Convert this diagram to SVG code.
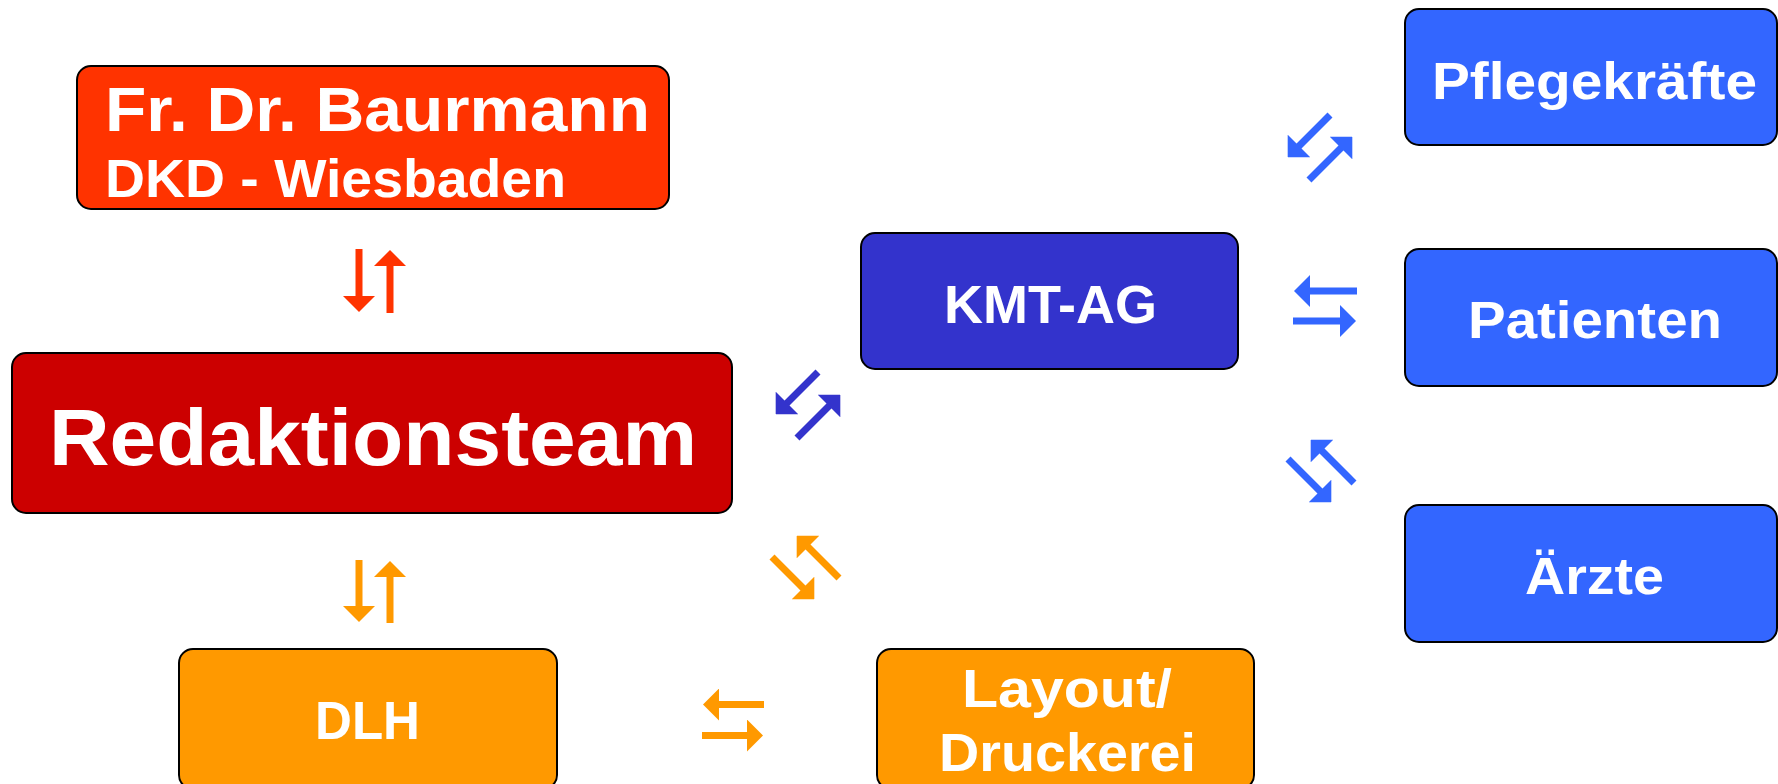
<svg xmlns="http://www.w3.org/2000/svg" width="1778" height="784" viewBox="0 0 1778 784">
  <style>
    .box { stroke: #000; stroke-width: 2; }
    .t { font-family: "Liberation Sans", Arial, sans-serif; font-weight: bold; fill: #fff; }
    .sh { fill: none; stroke-width: 7; stroke-linecap: butt; }
    .red { stroke: #FF3300; }
    .org { stroke: #FF9900; }
    .dbl { stroke: #3333CC; }
    .lbl { stroke: #3366FF; }
  </style>
  <defs>
    <marker id="hRed" markerUnits="userSpaceOnUse" viewBox="0 0 16 32" markerWidth="16" markerHeight="32" refX="1" refY="16" orient="auto"><path d="M0,0 L16,16 L0,32 Z" fill="#FF3300"/></marker>
    <marker id="hOrg" markerUnits="userSpaceOnUse" viewBox="0 0 16 32" markerWidth="16" markerHeight="32" refX="1" refY="16" orient="auto"><path d="M0,0 L16,16 L0,32 Z" fill="#FF9900"/></marker>
    <marker id="hDbl" markerUnits="userSpaceOnUse" viewBox="0 0 16 32" markerWidth="16" markerHeight="32" refX="1" refY="16" orient="auto"><path d="M0,0 L16,16 L0,32 Z" fill="#3333CC"/></marker>
    <marker id="hLbl" markerUnits="userSpaceOnUse" viewBox="0 0 16 32" markerWidth="16" markerHeight="32" refX="1" refY="16" orient="auto"><path d="M0,0 L16,16 L0,32 Z" fill="#3366FF"/></marker>
  </defs>
  <rect width="1778" height="784" fill="#fff"/>

  <g id="connectors">
    <!-- Baurmann <-> Redaktionsteam -->
    <line class="sh red" x1="359" y1="249" x2="359" y2="297" marker-end="url(#hRed)"/>
    <line class="sh red" x1="390" y1="313" x2="390" y2="265" marker-end="url(#hRed)"/>
    <!-- Redaktionsteam <-> DLH -->
    <line class="sh org" x1="359" y1="560" x2="359" y2="607" marker-end="url(#hOrg)"/>
    <line class="sh org" x1="390" y1="623" x2="390" y2="576" marker-end="url(#hOrg)"/>
    <!-- DLH <-> Layout -->
    <line class="sh org" x1="764" y1="704.5" x2="718" y2="704.5" marker-end="url(#hOrg)"/>
    <line class="sh org" x1="702" y1="735.5" x2="748" y2="735.5" marker-end="url(#hOrg)"/>
    <!-- Redaktionsteam <-> Layout -->
    <line class="sh org" x1="839" y1="578" x2="807.3" y2="546.3" marker-end="url(#hOrg)"/>
    <line class="sh org" x1="772" y1="557" x2="803.7" y2="588.7" marker-end="url(#hOrg)"/>
    <!-- Redaktionsteam <-> KMT-AG -->
    <line class="sh dbl" x1="818" y1="372" x2="786.3" y2="403.7" marker-end="url(#hDbl)"/>
    <line class="sh dbl" x1="797" y1="438" x2="829.7" y2="405.3" marker-end="url(#hDbl)"/>
    <!-- KMT-AG <-> Pflegekraefte -->
    <line class="sh lbl" x1="1330" y1="115" x2="1298.3" y2="146.7" marker-end="url(#hLbl)"/>
    <line class="sh lbl" x1="1309" y1="180" x2="1341.7" y2="147.3" marker-end="url(#hLbl)"/>
    <!-- KMT-AG <-> Patienten -->
    <line class="sh lbl" x1="1357" y1="291" x2="1309" y2="291" marker-end="url(#hLbl)"/>
    <line class="sh lbl" x1="1293" y1="321" x2="1341" y2="321" marker-end="url(#hLbl)"/>
    <!-- KMT-AG <-> Aerzte -->
    <line class="sh lbl" x1="1354" y1="483" x2="1321.3" y2="450.3" marker-end="url(#hLbl)"/>
    <line class="sh lbl" x1="1288" y1="459" x2="1320.7" y2="491.7" marker-end="url(#hLbl)"/>
  </g>

  <g id="baurmann">
    <rect class="box" x="77" y="66" width="592" height="143" rx="14" fill="#FF3300"/>
    <text class="t" x="105" y="131" font-size="63" textLength="545" lengthAdjust="spacingAndGlyphs">Fr. Dr. Baurmann</text>
    <text class="t" x="105" y="197" font-size="53" textLength="461" lengthAdjust="spacingAndGlyphs">DKD - Wiesbaden</text>
  </g>

  <g id="redaktionsteam">
    <rect class="box" x="12" y="353" width="720" height="160" rx="14" fill="#CC0000"/>
    <text class="t" x="373" y="465" font-size="80" text-anchor="middle" textLength="648" lengthAdjust="spacingAndGlyphs">Redaktionsteam</text>
  </g>

  <g id="kmt-ag">
    <rect class="box" x="861" y="233" width="377" height="136" rx="14" fill="#3333CC"/>
    <text class="t" x="1050.5" y="323" font-size="53" text-anchor="middle" textLength="213" lengthAdjust="spacingAndGlyphs">KMT-AG</text>
  </g>

  <g id="pflegekraefte">
    <rect class="box" x="1405" y="9" width="372" height="136" rx="14" fill="#3366FF"/>
    <text class="t" x="1594.5" y="99" font-size="52" text-anchor="middle" textLength="325" lengthAdjust="spacingAndGlyphs">Pflegekräfte</text>
  </g>

  <g id="patienten">
    <rect class="box" x="1405" y="249" width="372" height="137" rx="14" fill="#3366FF"/>
    <text class="t" x="1595" y="338" font-size="51" text-anchor="middle" textLength="254" lengthAdjust="spacingAndGlyphs">Patienten</text>
  </g>

  <g id="aerzte">
    <rect class="box" x="1405" y="505" width="372" height="137" rx="14" fill="#3366FF"/>
    <text class="t" x="1594.5" y="594" font-size="52" text-anchor="middle" textLength="139" lengthAdjust="spacingAndGlyphs">Ärzte</text>
  </g>

  <g id="dlh">
    <rect class="box" x="179" y="649" width="378" height="140" rx="14" fill="#FF9900"/>
    <text class="t" x="367.5" y="739" font-size="53" text-anchor="middle" textLength="105" lengthAdjust="spacingAndGlyphs">DLH</text>
  </g>

  <g id="layout-druckerei">
    <rect class="box" x="877" y="649" width="377" height="140" rx="14" fill="#FF9900"/>
    <text class="t" x="1067" y="707" font-size="53" text-anchor="middle" textLength="210" lengthAdjust="spacingAndGlyphs">Layout/</text>
    <text class="t" x="1067.5" y="771" font-size="53" text-anchor="middle" textLength="257" lengthAdjust="spacingAndGlyphs">Druckerei</text>
  </g>
</svg>
